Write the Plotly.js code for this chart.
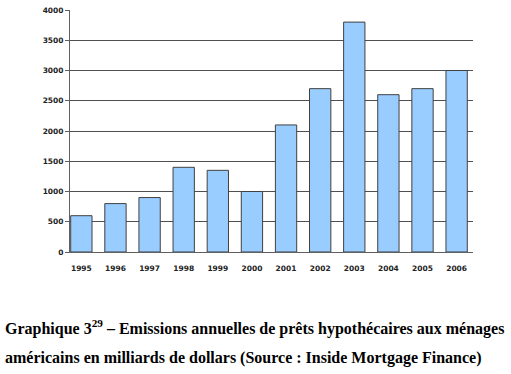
<!DOCTYPE html>
<html>
<head>
<meta charset="utf-8">
<script src="https://cdn.plot.ly/plotly-3.0.1.min.js"></script>
<style>html,body{margin:0;padding:0;background:#fff;}#chart{width:511px;height:374px;}</style>
</head>
<body>
<div id="chart"></div>
<script>
var years = ['1995','1996','1997','1998','1999','2000','2001','2002','2003','2004','2005','2006'];
var emissions = [600, 800, 900, 1400, 1350, 1000, 2100, 2700, 3800, 2600, 2700, 3000];
var yTicks = [0, 500, 1000, 1500, 2000, 2500, 3000, 3500, 4000];
var captionLine1 = 'Graphique 3<sup>29</sup> – Emissions annuelles de prêts hypothécaires aux ménages';
var captionLine2 = 'américains en milliards de dollars (Source : Inside Mortgage Finance)';

var W = 511, H = 374;
var mL = 70, mR = 38, mT = 10, mB = 122;
var plotW = W - mL - mR, plotH = H - mT - mB;
function px2paperX(px){ return (px - mL) / plotW; }
function px2paperY(py){ return (H - mB - py) / plotH; }

var tickFont = {family: 'DejaVu Sans, Verdana, sans-serif', size: 7.5, color: '#222', weight: 'bold'};
var capFont = {family: 'Liberation Serif, Times New Roman, serif', size: 16, color: '#000', weight: 'bold'};

Plotly.newPlot('chart', [{
  type: 'bar',
  x: years.map(function(_, i){ return i; }),
  y: emissions,
  width: 0.625,
  marker: {color: '#99ccff', line: {color: '#404040', width: 1}},
  hoverinfo: 'none'
}], {
  width: W, height: H,
  margin: {l: mL, r: mR, t: mT, b: mB, pad: 0},
  paper_bgcolor: '#fff', plot_bgcolor: '#fff',
  showlegend: false,
  bargap: 0.375,
  xaxis: {
    range: [-0.333, 11.48],
    tickmode: 'array',
    tickvals: years.map(function(_, i){ return i; }),
    ticktext: years,
    showgrid: false, zeroline: false,
    showline: true, linecolor: '#606060', linewidth: 1,
    ticks: '', tickfont: tickFont, ticklabelstandoff: 9
  },
  yaxis: {
    range: [0, 4000],
    tickmode: 'array', tickvals: yTicks,
    showgrid: true, gridcolor: '#505050', gridwidth: 1,
    zeroline: false,
    showline: true, linecolor: '#606060', linewidth: 1,
    ticks: 'outside', ticklen: 4, tickcolor: '#606060',
    tickfont: tickFont
  },
  annotations: [
    {text: captionLine1, xref: 'paper', yref: 'paper', x: px2paperX(3), y: px2paperY(327),
     xanchor: 'left', yanchor: 'middle', showarrow: false, font: capFont},
    {text: captionLine2, xref: 'paper', yref: 'paper', x: px2paperX(3), y: px2paperY(358),
     xanchor: 'left', yanchor: 'middle', showarrow: false, font: capFont}
  ]
}, {displayModeBar: false, staticPlot: true});
</script>
</body>
</html>
